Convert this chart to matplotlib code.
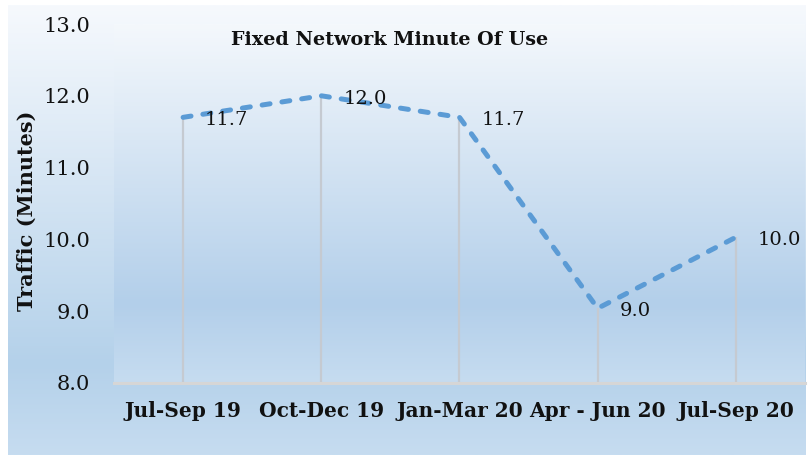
import numpy as np
import matplotlib
matplotlib.use("Agg")
import matplotlib.pyplot as plt
from matplotlib.colors import LinearSegmentedColormap

categories = ["Jul-Sep 19", "Oct-Dec 19", "Jan-Mar 20", "Apr - Jun 20", "Jul-Sep 20"]
values = [11.7, 12.0, 11.7, 9.04, 10.03]
yticks = [8.0, 9.0, 10.0, 11.0, 12.0, 13.0]
title = "Fixed Network Minute Of Use"
ylabel = "Traffic (Minutes)"

W, H = 812, 455
fig = plt.figure(figsize=(W / 100, H / 100), dpi=100)
fig.patch.set_facecolor("white")

def vgrad(stops):
    return LinearSegmentedColormap.from_list("g", stops)

# chart area background gradient
bg = fig.add_axes([8 / W, 0, 798 / W, 450 / H], zorder=0)
cm_bg = vgrad([(0.0, "#f6f9fd"), (0.8, "#b4d1ea"), (1.0, "#c6dcf0")])
bg.imshow(np.linspace(0, 1, 256).reshape(-1, 1), cmap=cm_bg, aspect="auto",
          extent=[0, 1, 0, 1], origin="upper")
bg.set_axis_off()

# plot area
ax = fig.add_axes([114 / W, 72 / H, 691 / W, 359 / H], zorder=1)
cm_pa = vgrad([(0.0, "#f4f8fc"), (0.78, "#b3cfea"), (1.0, "#c6dcf0")])
ax.imshow(np.linspace(0, 1, 256).reshape(-1, 1), cmap=cm_pa, aspect="auto",
          extent=[-0.5, 4.5, 8.0, 13.0], origin="upper", zorder=0)

x = np.arange(len(categories))
ax.vlines(x, 8.0, values, color="#c5cad1", lw=1.6, zorder=2)
ax.plot(x, values, color="#5b9bd5", lw=3.6, dashes=(1.6, 2.4),
        dash_capstyle="round", solid_capstyle="round", zorder=3)

for xi, v in zip(x, values):
    ax.annotate(f"{v:.1f}", (xi, v), xytext=(22, -3), textcoords="offset pixels",
                ha="left", va="center", fontsize=14, family="DejaVu Serif",
                color="#111111", zorder=4)

ax.set_xlim(-0.5, 4.5)
ax.set_ylim(8.0, 13.0)
ax.set_yticks(yticks)
ax.set_yticklabels([f"{t:.1f}" for t in yticks], family="DejaVu Serif", fontsize=15,
                   color="#111111")
ax.set_xticks(x)
ax.set_xticklabels(categories, family="DejaVu Serif", fontsize=14.5,
                   fontweight="bold", color="#111111")
ax.tick_params(axis="y", length=0, pad=17)
ax.tick_params(axis="x", length=0, pad=13)
for s in ["top", "right", "left"]:
    ax.spines[s].set_visible(False)
ax.spines["bottom"].set_color("#d6d6d6")
ax.spines["bottom"].set_linewidth(2.2)
ax.spines["bottom"].set_zorder(5)

fig.text(390 / W, 1 - 40 / H, title, ha="center", va="center",
         family="DejaVu Serif", fontweight="bold", fontsize=13.8, color="#111111")
fig.text(27 / W, 1 - 211 / H, ylabel, ha="center", va="center", rotation=90,
         family="DejaVu Serif", fontweight="bold", fontsize=15, color="#111111")

fig.savefig("out.png", dpi=100)
